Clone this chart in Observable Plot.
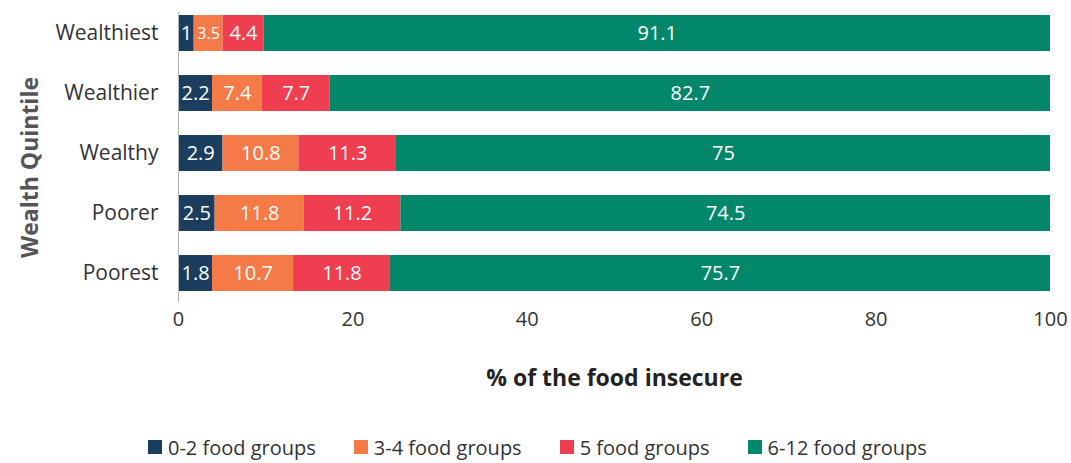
<!DOCTYPE html>
<html>
<head>
<meta charset="utf-8">
<script src="https://cdn.jsdelivr.net/npm/d3@7"></script>
<script src="https://cdn.jsdelivr.net/npm/@observablehq/plot@0.6"></script>
<style>
  body { margin: 0; background: #fff; font-family: "Open Sans", sans-serif; }
  #legend { display: flex; justify-content: flex-start; padding-left: 148px; height: 30px; align-items: center; margin-top: 27px; color: #333; font-size: 20px; }
  .item { display: flex; align-items: center; }
  .sw { width: 14px; height: 14px; margin-right: 6px; }
</style>
</head>
<body>
<div id="chart"></div>
<div id="legend"></div>
<script>
const quintiles = ["Wealthiest", "Wealthier", "Wealthy", "Poorer", "Poorest"];
const groups = ["0-2 food groups", "3-4 food groups", "5 food groups", "6-12 food groups"];
const colors = ["#1b3d5e", "#f47b48", "#ee3e4f", "#03876a"];

// segment widths as drawn in the picture (% of the food insecure)
const g02 = [1.8, 3.9, 5.1, 4.2, 3.9];
const g34 = [3.3, 5.7, 8.7, 10.2, 9.3];
const g5 = [4.7, 7.8, 11.2, 11.1, 11.1];
const g612 = [90.2, 82.6, 75.0, 74.5, 75.7];

// printed labels
const l02 = ["1", "2.2", "2.9", "2.5", "1.8"];
const l34 = ["3.5", "7.4", "10.8", "11.8", "10.7"];
const l5 = ["4.4", "7.7", "11.3", "11.2", "11.8"];
const l612 = ["91.1", "82.7", "75", "74.5", "75.7"];

const xTicks = [0, 20, 40, 60, 80, 100];

const series = [g02, g34, g5, g612];
const labels = [l02, l34, l5, l612];
const data = quintiles.flatMap((q, i) =>
  groups.map((g, j) => ({quintile: q, group: g, value: series[j][i], label: labels[j][i]}))
);

const chart = Plot.plot({
  width: 1071,
  height: 405,
  marginLeft: 178,
  marginRight: 21,
  marginTop: 12,
  marginBottom: 103,
  style: {fontFamily: "Open Sans", color: "#333", background: "#fff"},
  x: {domain: [0, 100], ticks: xTicks, label: null},
  y: {domain: quintiles, paddingInner: 0.4, paddingOuter: 0.11, align: 0.23, label: null},
  color: {domain: groups, range: colors},
  marks: [
    Plot.barX(data, Plot.stackX({x: "value", y: "quintile", fill: "group", order: groups})),
    Plot.text(data, Plot.stackX({
      x: "value", y: "quintile", z: "group", order: groups, text: "label",
      fill: "white", fontSize: d => (d.value < 3.5 && d.label.length > 1 ? 16 : 20)
    })),
    Plot.ruleX([0], {stroke: "#b5b5b5"}),
    Plot.axisX({ticks: xTicks, tickSize: 0, tickPadding: 9, label: null, fontSize: 20}),
    Plot.axisY({tickSize: 0, tickPadding: 20, label: null, fontSize: 21}),
    Plot.text(["% of the food insecure"], {frameAnchor: "bottom", dy: 83, fontWeight: "bold", fontSize: 23, fill: "#222"}),
    Plot.text(["Wealth Quintile"], {frameAnchor: "left", textAnchor: "middle", dx: -148, dy: 10, rotate: -90, fontWeight: "bold", fontSize: 23, fill: "#555"})
  ]
});
document.getElementById("chart").appendChild(chart);

const legend = d3.select("#legend");
const gaps = [0, 38, 38, 38];
groups.forEach((g, i) => {
  const it = legend.append("div").attr("class", "item").style("margin-left", gaps[i] + "px");
  it.append("div").attr("class", "sw").style("background", colors[i]);
  it.append("span").text(g);
});
</script>
</body>
</html>
